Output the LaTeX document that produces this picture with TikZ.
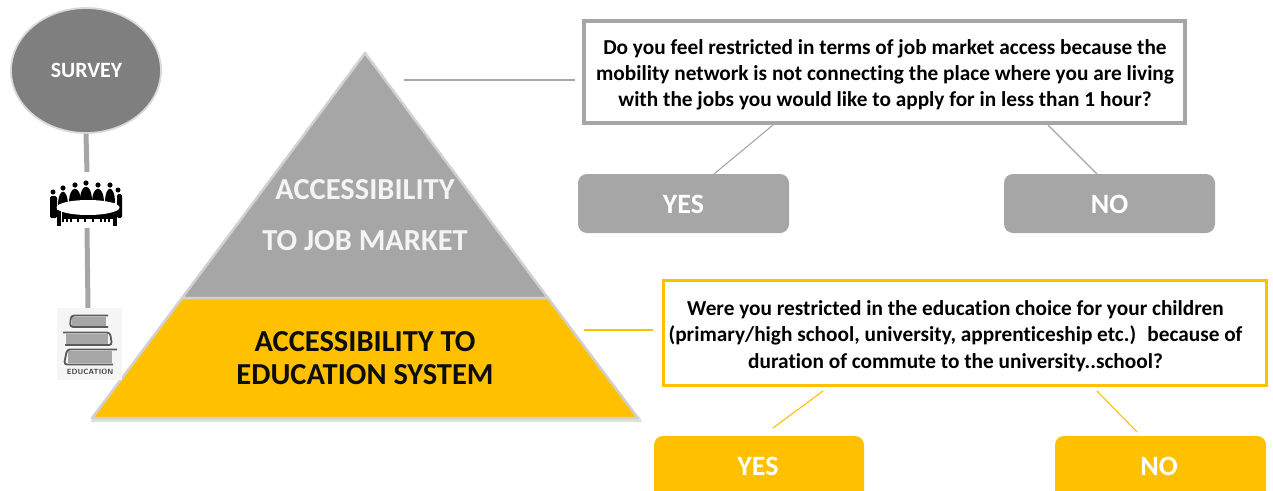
\documentclass[tikz,border=0pt]{standalone}
\usepackage{fontspec}
\usetikzlibrary{shapes.geometric}
\setmainfont[Ligatures=NoCommon]{Carlito}
\definecolor{gr}{HTML}{A6A6A6}
\definecolor{dk}{HTML}{7F7F7F}
\definecolor{am}{HTML}{FFC000}
\definecolor{txt}{HTML}{0D0D0D}
\definecolor{bk}{HTML}{5A5A5A}
\tikzset{x=1pt,y=-1pt,
 qbox/.style={draw=#1,line width=3.5pt,fill=white,rectangle,inner sep=0pt},
 qtext/.style={inner sep=0pt,align=center,text=black,font=\fontsize{21.3}{26.3}\selectfont\bfseries},
 ans/.style={fill=#1,rectangle,rounded corners=9pt,inner sep=0pt},
 anstext/.style={inner sep=0pt,text=white,font=\fontsize{28}{30}\selectfont\bfseries},
 thin line/.style={draw=#1,line width=1.1pt},
 stem/.style={draw=gr,line width=5pt},
 pyr/.style={font=\fontsize{30.5}{34}\selectfont\bfseries,align=center,inner sep=0pt},
}
\begin{document}
\begin{tikzpicture}
\useasboundingbox (0,0) rectangle (1273,490);
\clip (0,0) rectangle (1273,490);
% pyramid
\fill[black!12] (91,422) -- (642,422) -- (640,417) -- (92,417) -- cycle;
\draw[draw=black!18,line width=2.5pt,line join=round,fill=gr] (365,53) -- (548,298) -- (182,298) -- cycle;
\draw[draw=black!18,line width=2.5pt,line join=round,fill=am] (182,298) -- (548,298) -- (638,418) -- (92,418) -- cycle;
\node[pyr,text=white!88!gr] (job1) at (365,190) {ACCESSIBILITY};
\node[pyr,text=white!88!gr] (job2) at (365,241) {TO JOB MARKET};
\node[pyr,text=txt] (edu) at (365,358) {ACCESSIBILITY TO\\[-0.5pt]EDUCATION SYSTEM};
% survey column
\coordinate (stemA) at (87,172);
\coordinate (stemB) at (87,228);
\coordinate (stemC) at (88,308);
\node[ellipse,minimum width=150pt,minimum height=125pt,fill=dk,draw=black!15,line width=1.8pt,inner sep=0pt,text=white,font=\fontsize{21.8}{25}\selectfont\bfseries] (survey) at (86,70.5) {\raisebox{-1pt}{\hspace{1pt}SURVEY}};
\draw[stem] (survey.south) -- (stemA);
\draw[stem] (stemB) -- (stemC);
% meeting icon
\foreach \px/\py/\pw in {63/188/5,75/185/6,86/183/6,98/185/6,110/185/5}{
 \fill[black] (\px,\py) circle (2.6pt);
 \fill[black] (\px-\pw,\py+18) .. controls (\px-\pw,\py-1) and (\px+\pw,\py-1) .. (\px+\pw,\py+18) -- cycle;
}
\fill[black] (53,192) circle (2.5pt);
\fill[black] (118,190) circle (2.5pt);
\fill[black,rounded corners=1.5pt] (50,196) rectangle (57,218);
\fill[black,rounded corners=1.5pt] (117,194) rectangle (122,218);
\fill[black] (57,210) rectangle (61,226);
\fill[black] (113,210) rectangle (117,226);
\fill[black] (62,212) rectangle (114,219);
\foreach \bx in {62,66,70,77,84,92,100,104,108}{\fill[black] (\bx,216) rectangle (\bx+2.2,222);}
\node[ellipse,fill=white,draw=none,minimum width=63pt,minimum height=15pt,inner sep=0pt] (table) at (88,207.5) {};
% book icon
\fill[black!4] (57,308) rectangle (122,380);
\fill[black!35] (72,317) rectangle (106,326);
\draw[bk,line width=1.8pt,rounded corners=3pt] (108,315.5) -- (71,315.5) -- (70,327) -- (108,327);
\fill[black!35] (66,334) rectangle (108,344);
\draw[bk,line width=1.8pt,rounded corners=3pt] (63,332.5) -- (110,332.5) -- (112,345) -- (65,345);
\fill[black!35] (68,351) rectangle (112,363);
\draw[bk,line width=1.8pt,rounded corners=3pt] (117,349.5) -- (67,349.5) -- (64,364.5) -- (113,364.5);
\node[inner sep=0pt,font=\fontsize{7.5}{9}\selectfont\bfseries\sffamily,text=black!75] (edulabel) at (90,372) {EDUCATION};
% top question
\node[qbox=gr,minimum width=601pt,minimum height=102pt] (q1) at (884.5,72) {};
\node[qtext] (q1t) at (885,75) {Do you feel restricted in terms of job market access because the\\mobility network is not connecting the place where you are living\\with the jobs you would like to apply for in less than 1 hour?};
\node[ans=gr,minimum width=211pt,minimum height=59pt] (y1) at (683.5,203.5) {};
\node[anstext] (y1t) at (683.5,204.5) {YES};
\node[ans=gr,minimum width=211pt,minimum height=59pt] (n1) at (1109.5,203.5) {};
\node[anstext] (n1t) at (1109.5,204.5) {NO};
\coordinate (l1a) at (404,80);
\coordinate (l1b) at (575,80);
\draw[thin line=gr] (l1a) -- (l1b);
\coordinate (t1a) at (773,125);
\coordinate (t1b) at (714,174);
\coordinate (t2a) at (1048,125);
\coordinate (t2b) at (1097,174);
\draw[thin line=gr] (t1a) -- (t1b);
\draw[thin line=gr] (t2a) -- (t2b);
% lower question
\node[qbox=am,minimum width=603pt,minimum height=105pt] (q2) at (965,333) {};
\node[qtext] (q2t) at (955.5,336) {Were you restricted in the education choice for your children\\(primary/high school, university, apprenticeship etc.) \ because of\\duration of commute to the university..school?};
\node[ans=am,minimum width=210pt,minimum height=80pt] (y2) at (759,476) {};
\node[ans=am,minimum width=211pt,minimum height=80pt] (n2) at (1160.5,476) {};
\node[anstext] (y2t) at (758,466) {YES};
\node[anstext] (n2t) at (1159,466) {NO};
\coordinate (l2a) at (584,330);
\coordinate (l2b) at (653,330);
\draw[thin line=am] (l2a) -- (l2b);
\coordinate (t3a) at (823,391);
\coordinate (t3b) at (773,428);
\coordinate (t4a) at (1097,391);
\coordinate (t4b) at (1137,432);
\draw[thin line=am] (t3a) -- (t3b);
\draw[thin line=am] (t4a) -- (t4b);
\end{tikzpicture}
\end{document}
